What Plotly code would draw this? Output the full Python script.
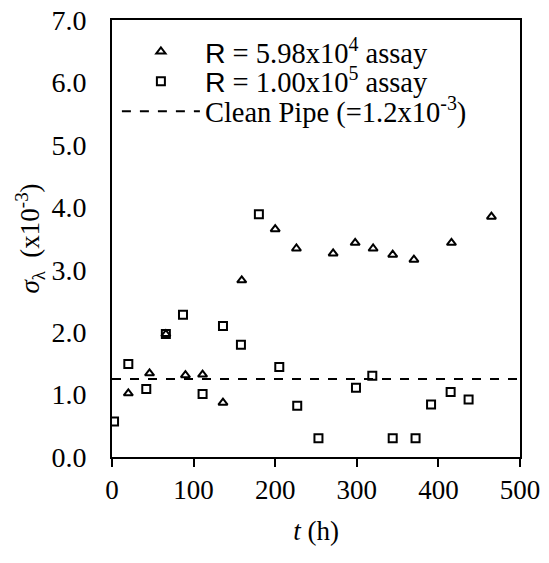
import plotly.graph_objects as go

t_a = [20, 46, 66, 90, 111, 136, 159, 200, 226, 271, 298, 320, 344, 370, 416, 465]
s_a = [1.02, 1.34, 1.97, 1.31, 1.32, 0.87, 2.83, 3.65, 3.34, 3.26, 3.43, 3.34, 3.24, 3.16, 3.43, 3.85]

t_b = [2.5, 20, 42, 66, 87, 111, 136, 158, 180, 205, 227, 253, 299, 319, 344, 372, 391, 415, 437]
s_b = [0.57, 1.49, 1.09, 1.97, 2.28, 1.01, 2.10, 1.80, 3.89, 1.44, 0.82, 0.30, 1.11, 1.30, 0.30, 0.30, 0.84, 1.04, 0.92]

t_clean = [0, 500]
s_clean = [1.25, 1.25]

x_ticks = [0, 100, 200, 300, 400, 500]
y_ticks = [0, 1, 2, 3, 4, 5, 6, 7]

SERIF = "Liberation Serif"

fig = go.Figure()
fig.add_trace(go.Scatter(
    x=t_a, y=s_a, mode="markers", legend="legend",
    name="<span style='font-family:Liberation Sans'>R</span> = 5.98x10<sup>4</sup> assay",
    marker=dict(symbol="triangle-up-open", size=8, color="black", line=dict(width=2, color="black")),
))
fig.add_trace(go.Scatter(
    x=t_b, y=s_b, mode="markers", legend="legend2",
    name="<span style='font-family:Liberation Sans'>R</span> = 1.00x10<sup>5</sup> assay",
    marker=dict(symbol="square-open", size=8, color="black", line=dict(width=2, color="black")),
))
fig.add_trace(go.Scatter(
    x=t_clean, y=s_clean, mode="lines", legend="legend3",
    name="Clean Pipe (=1.2x10<sup>-3</sup>)",
    line=dict(color="black", width=2, dash="9px,9px"),
))

def leg(y):
    return dict(
        x=0.012, y=y, xanchor="left", yanchor="middle",
        bgcolor="rgba(0,0,0,0)", font=dict(family=SERIF, size=28.5, color="black"),
        itemwidth=78,
    )

fig.update_layout(
    width=549, height=563,
    margin=dict(l=112, r=29, t=20, b=106),
    paper_bgcolor="white", plot_bgcolor="white",
    font=dict(family=SERIF, size=27, color="black"),
    showlegend=True,
    legend=leg(0.927),
    legend2=leg(0.859),
    legend3=leg(0.790),
    xaxis=dict(
        range=[0, 500], tickvals=x_ticks, ticktext=[str(v) for v in x_ticks],
        showgrid=False, zeroline=False, automargin=False,
        showline=True, linecolor="black", linewidth=2, mirror=True,
        ticks="outside", ticklen=8, tickwidth=2, tickcolor="black",
        ticklabeloverflow="allow",
        tickfont=dict(family=SERIF, size=27, color="black"),
        title=dict(text="<i>t</i> (h)", font=dict(family=SERIF, size=27, color="black"), standoff=17),
    ),
    yaxis=dict(
        range=[0, 7], tickvals=y_ticks, ticktext=[f"{v:.1f}" for v in y_ticks],
        showgrid=False, zeroline=False, automargin=False,
        showline=True, linecolor="black", linewidth=2, mirror=True,
        ticks="outside", ticklen=18, tickwidth=2, tickcolor="rgba(0,0,0,0)",
        ticklabeloverflow="allow",
        tickfont=dict(family=SERIF, size=28, color="black"),
        title=dict(text="<i>σ</i><sub>λ</sub>  (x10<sup>-3</sup>)", font=dict(family=SERIF, size=27, color="black"), standoff=4),
    ),
    yaxis2=dict(
        range=[0, 7], tickvals=y_ticks, overlaying="y", side="left", anchor="x",
        showgrid=False, zeroline=False, automargin=False, showline=False,
        showticklabels=False,
        ticks="outside", ticklen=7, tickwidth=2, tickcolor="black",
    ),
)

fig.write_html("out.html", config={"displayModeBar": False},
               post_script="document.body.style.margin='0';")
